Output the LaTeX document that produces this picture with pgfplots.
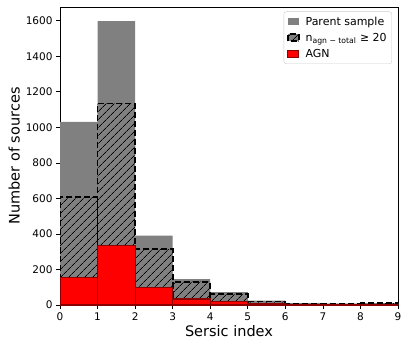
\documentclass[border=0pt]{standalone}
\usepackage{pgfplots}
\pgfplotsset{compat=1.18}
\usepackage{fontspec}
\setmainfont{DejaVu Sans}
\usetikzlibrary{patterns.meta}

\definecolor{parentgray}{RGB}{128,128,128}
\definecolor{agnred}{RGB}{255,0,0}
\definecolor{agnedge}{RGB}{139,0,0}

\tikzset{hatchbar/.style={fill=parentgray,
    postaction={pattern={Lines[angle=45,distance=6bp,line width=0.7bp]},pattern color=black},
    draw=black,line width=1.8bp,dash pattern=on 6bp off 3bp}}
\pgfplotsset{boxlegend/.style={legend image code/.code={
    \path[##1,sharp corners] (0bp,-3.5bp) rectangle (11bp,3.5bp);}}}

\begin{document}
\begin{tikzpicture}
\begin{axis}[scale only axis,width=338bp,height=298bp,
  xmin=0,xmax=9,ymin=0,ymax=1677,
  xtick={0,1,...,9},ytick={0,200,...,1600},
  tick align=outside,tick pos=left,
  major tick length=4bp,
  every tick/.style={black,line width=0.6bp},
  axis line style={line width=0.6bp},
  /pgf/number format/assume math mode=true,
  /pgf/number format/set thousands separator={},
  ticklabel style={font=\fontsize{10.5bp}{12bp}\selectfont},
  xlabel={Sersic index},ylabel={Number of sources},
  label style={font=\fontsize{14.5bp}{17bp}\selectfont},
  xlabel style={yshift=2bp},
  ylabel style={yshift=-1bp},
  legend style={at={(0.982,0.985)},anchor=north east,
    draw=black!20,rounded corners=2.5bp,
    font=\fontsize{11bp}{13bp}\selectfont,
    row sep=2.5bp,inner xsep=3bp,inner ysep=3bp,
    /tikz/every odd column/.append style={column sep=4bp}},
  legend cell align=left]
\addplot[ybar interval,boxlegend,fill=parentgray,draw=none] coordinates {
(0,1030)(1,1597)(2,390)(3,145)(4,72)(5,24)(6,11)(7,8)(8,11)(9,11)};
\addlegendentry{Parent sample}
\addplot[ybar interval,boxlegend,hatchbar] coordinates {
(0,609)(1,1134)(2,315)(3,131)(4,62)(5,20)(6,9)(7,7)(8,10)(9,10)};
\addlegendentry{n\textsubscript{agn − total} ≥ 20}
\addplot[ybar interval,boxlegend,fill=agnred,draw=agnedge,line width=1.2bp] coordinates {
(0,157)(1,337)(2,97)(3,34)(4,20)(5,6)(6,3)(7,2)(8,3)(9,3)};
\addlegendentry{AGN}
\end{axis}
\path ([xshift=-60bp,yshift=-43bp]current axis.south west) rectangle ([xshift=9bp,yshift=7bp]current axis.north east);
\end{tikzpicture}
\end{document}
